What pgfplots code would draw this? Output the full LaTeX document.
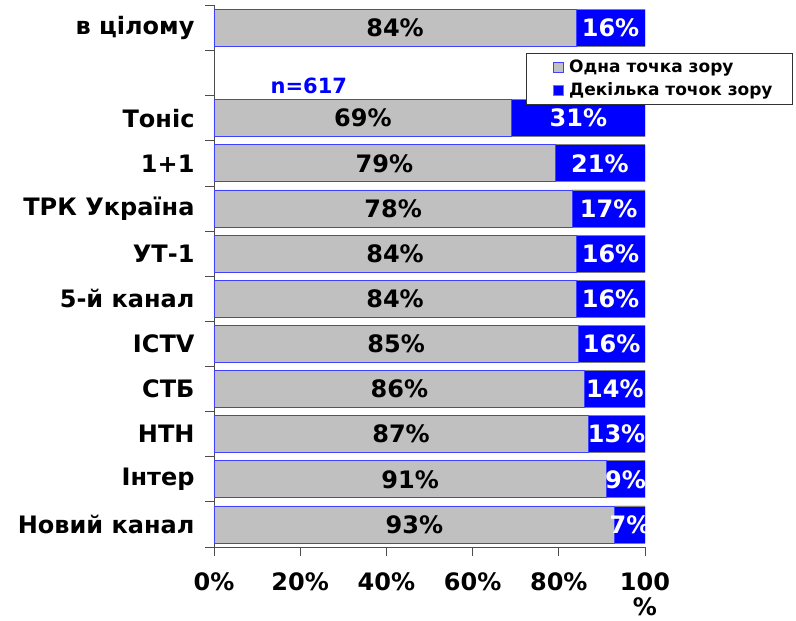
\documentclass[border=0pt]{standalone}
\usepackage{pgfplots}
\usepackage{pgfplotstable}
\pgfplotsset{compat=1.18}
\usepackage{fontspec}
\setmainfont{DejaVu Sans}
\definecolor{bargray}{HTML}{C0C0C0}
\definecolor{barblue}{HTML}{0000FF}
\definecolor{edgeblue}{HTML}{4040FF}
\definecolor{edgegray}{HTML}{808080}

\pgfplotstableread{
y  g     b     gl  bl
11 84.0  16.0  84  16
9  69.1  30.9  69  31
8  79.1  20.9  79  21
7  83.1  16.9  78  17
6  84.0  16.0  84  16
5  84.0  16.0  84  16
4  84.5  15.5  85  16
3  86.0  14.0  86  14
2  86.8  13.2  87  13
1  91.0  9.0   91  9
0  93.0  7.0   93  7
}\datatable

\newcommand{\bigf}{\bfseries\fontsize{24bp}{32bp}\selectfont}

\begin{document}
\begin{tikzpicture}
\begin{axis}[
  name=main,
  xbar stacked,
  scale only axis,
  width=431bp, height=541.6bp,
  xmin=0, xmax=100, ymin=-0.5, ymax=11.5,
  bar width=0.82,
  axis lines=left,
  axis line style={-, black!70, line width=0.8bp},
  xtick={0,20,...,100},
  xticklabels={0\%,20\%,40\%,60\%,80\%,{100\\[-7bp]\%}},
  xticklabel style={align=center, font=\bigf, yshift=-13bp},
  ytick={0,...,11},
  yticklabels={Новий канал,Інтер,НТН,СТБ,ICTV,5-й канал,УТ-1,ТРК Україна,1+1,Тоніс,{},в цілому},
  yticklabel style={font=\bigf, xshift=-7bp},
  minor ytick={-0.5,0.5,...,11.5},
  major y tick style={draw=none},
  tick align=outside,
  major tick length=9bp, minor tick length=9bp,
  tick style={black!70, line width=0.8bp},
  legend style={at={(0.724,0.913)}, anchor=north west,
    draw=black!80, line width=0.8bp, fill=white,
    font=\bfseries\fontsize{17bp}{21bp}\selectfont,
    inner xsep=18bp, inner ysep=5bp, row sep=5bp, column sep=3bp},
  legend cell align=left,
  legend image code/.code={\path (-9bp,0bp); \draw[#1, line width=0.8bp] (0bp,-5bp) rectangle (10bp,5bp);},
]
\addplot[fill=bargray, draw=edgeblue, line width=0.8bp] table[x=g, y=y]{\datatable};
\addplot[fill=barblue, draw=edgegray, line width=0.8bp] table[x=b, y=y]{\datatable};
\legend{Одна точка зору, Декілька точок зору}
\end{axis}
\begin{axis}[
  scale only axis,
  width=431bp, height=541.6bp,
  xmin=0, xmax=100, ymin=-0.5, ymax=11.5,
  hide axis, clip=true,
  nodes near coords={\pgfplotspointmeta\%},
  every node near coord/.style={anchor=center, font=\bigf, inner sep=0pt},
]
\addplot[only marks, mark=none, point meta=explicit symbolic,
  every node near coord/.append style={text=black}]
  table[x expr=\thisrow{g}/2, y=y, meta=gl]{\datatable};
\addplot[only marks, mark=none, point meta=explicit symbolic,
  every node near coord/.append style={text=white}]
  table[x expr=\thisrow{g}+\thisrow{b}/2, y=y, meta=bl]{\datatable};
\node[text=barblue, font=\bfseries\fontsize{21bp}{24bp}\selectfont] at (axis cs:22.0,9.72) {n=617};
\end{axis}
\pgfresetboundingbox
\path[use as bounding box] ([xshift=-214bp,yshift=-74bp]main.south west) rectangle ++(796bp,621bp);
\end{tikzpicture}
\end{document}
